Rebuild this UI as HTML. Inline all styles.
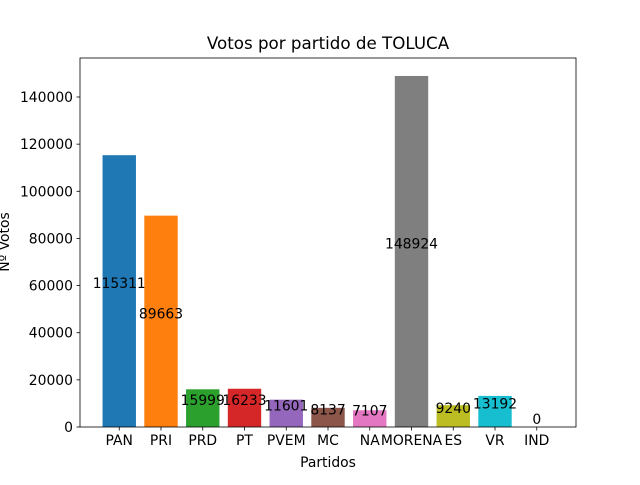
<!DOCTYPE html>
<html><head><meta charset="utf-8"><style>
body{margin:0;background:#fff;}
svg text{font-family:"DejaVu Sans","Liberation Sans",sans-serif;}
</style></head><body>
<svg id="chart" width="640" height="480" xmlns="http://www.w3.org/2000/svg">
<rect width="640" height="480" fill="#fff"/>
<text x="328" y="49" text-anchor="middle" font-size="16.7">Votos por partido de TOLUCA</text>
<text x="328" y="467" text-anchor="middle" font-size="13.9">Partidos</text>
<text transform="translate(9,242) rotate(-90)" text-anchor="middle" font-size="13.9">Nº Votos</text>
<g id="bars"></g><g id="axes"></g>
</svg>
<script>
const categories=["PAN","PRI","PRD","PT","PVEM","MC","NA","MORENA","ES","VR","IND"];
const votes=[115311,89663,15999,16233,11601,8137,7107,148924,9240,13192,0];
const yTicks=[0,20000,40000,60000,80000,100000,120000,140000];
const colors=["#1f77b4","#ff7f0e","#2ca02c","#d62728","#9467bd","#8c564b","#e377c2","#7f7f7f","#bcbd22","#17becf","#1f77b4"];
const L=80,R=576,T=58,B=427;
const x0=-0.94,x1=categories.length-1+0.94;
const xs=i=>L+(i-x0)/(x1-x0)*(R-L);
const ys=v=>B-v/140000*(B-97);
const ns="http://www.w3.org/2000/svg";
const bars=document.getElementById('bars'),axes=document.getElementById('axes');
function mk(t,a,p){const e=document.createElementNS(ns,t);for(const k in a)e.setAttribute(k,a[k]);p.appendChild(e);return e;}
const bw=0.8*(R-L)/(x1-x0);
categories.forEach((c,i)=>{
 const r=mk('rect',{x:xs(i)-bw/2,y:ys(votes[i]),width:bw,height:B-ys(votes[i]),fill:colors[i]},bars);
 
 
 const t=mk('text',{x:xs(i),y:ys(votes[i]/2)-3,'text-anchor':'middle','font-size':'13.9'},bars);
 t.textContent=votes[i];
 
 
 mk('line',{x1:xs(i),x2:xs(i),y1:B,y2:B+3.5,stroke:'#000','stroke-width':0.8},axes);
 const xl=mk('text',{x:xs(i),y:B+18,'text-anchor':'middle','font-size':'13.9'},axes);
 xl.textContent=c;
 
 
});
yTicks.forEach(v=>{
 mk('line',{x1:L-3.5,x2:L,y1:ys(v),y2:ys(v),stroke:'#000','stroke-width':0.8},axes);
 const yl=mk('text',{x:L-7,y:ys(v)+5,'text-anchor':'end','font-size':'13.9'},axes);
 yl.textContent=v;
 
 
});
const f=mk('rect',{x:L,y:T,width:R-L,height:B-T,fill:'none',stroke:'#000','stroke-width':0.8},axes);


</script>
</body></html>
